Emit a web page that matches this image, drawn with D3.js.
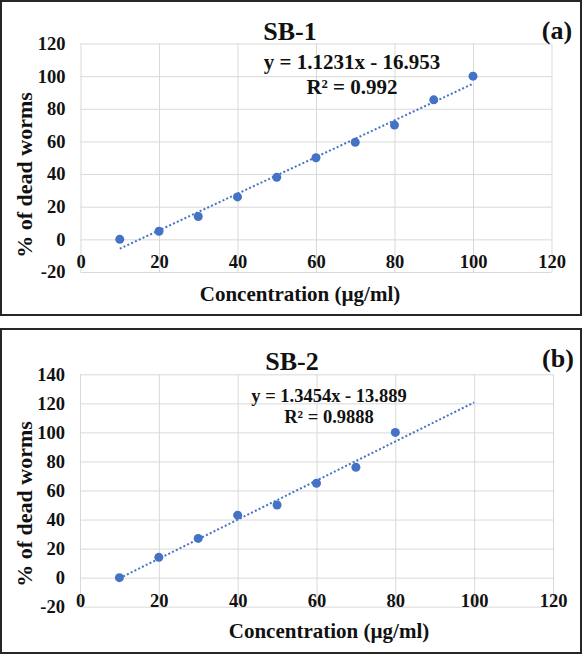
<!DOCTYPE html>
<html><head><meta charset="utf-8">
<script src="https://cdn.jsdelivr.net/npm/d3@7"></script>
<style>
html,body{margin:0;padding:0;background:#fff;}
svg{display:block;}
text{font-family:"Liberation Serif","Times New Roman",serif;font-weight:bold;fill:#111;}
</style></head>
<body>
<svg id="chart" width="583" height="655"></svg>
<script>
// ---- data ----
const xTicks = [0, 20, 40, 60, 80, 100, 120];
const yTicksA = [-20, 0, 20, 40, 60, 80, 100, 120];
const yTicksB = [-20, 0, 20, 40, 60, 80, 100, 120, 140];

const concA = [10, 20, 30, 40, 50, 60, 70, 80, 90, 100];
const deadA = [0, 5, 14, 26, 38, 50, 59.5, 70, 85.5, 100];
const concB = [10, 20, 30, 40, 50, 60, 70, 80];
const deadB = [0, 14, 27, 43, 50, 65, 76, 100];

const titles = ["SB-1", "SB-2"];
const panelTags = ["(a)", "(b)"];
const slopes = [1.1231, 1.3454];
const intercepts = [-16.953, -13.889];
const equations = ["y = 1.1231x - 16.953", "y = 1.3454x - 13.889"];
const r2Labels = ["R² = 0.992", "R² = 0.9888"];
const trendRange = [10, 100];
const xTitle = "Concentration (µg/ml)";
const yTitle = "% of dead worms";

// ---- layout ----
const panels = [
  {box:[1,1,580,314], x:[80.5,551.5], yDom:[-20,120], y:[272,43.5], yTicks:yTicksA,
   xs:concA, ys:deadA, titleX:290, titleY:40, tagX:557, tagY:39,
   eqX:352, eqY:69, eqSize:21, r2Y:94, xtX:300, xtY:301, ytX:32, ytY:175},
  {box:[1,329,580,324], x:[80,553], yDom:[-20,140], y:[606.7,374.3], yTicks:yTicksB,
   xs:concB, ys:deadB, titleX:292, titleY:370, tagX:558, tagY:367,
   eqX:329, eqY:402, eqSize:18.5, r2Y:423, xtX:329, xtY:638, ytX:32, ytY:504}
];

const svg = d3.select("#chart");
const blue = "#4472C4";
const fmt = d => String(d);

panels.forEach((p, i) => {
  const g = svg.append("g");
  g.append("rect").attr("x", p.box[0]).attr("y", p.box[1])
    .attr("width", p.box[2]).attr("height", p.box[3])
    .attr("fill", "#fff").attr("stroke", "#262626").attr("stroke-width", 2);

  const x = d3.scaleLinear().domain([0,120]).range(p.x);
  const y = d3.scaleLinear().domain(p.yDom).range(p.y);
  const w = p.x[1]-p.x[0], h = p.y[0]-p.y[1];

  // vertical gridlines
  const gx = g.append("g").attr("transform", `translate(0,${p.y[0]})`)
    .call(d3.axisBottom(x).tickValues(xTicks).tickSize(-h).tickSizeOuter(0).tickFormat(""));
  gx.select(".domain").remove();
  gx.selectAll("line").attr("stroke", "#d9d9d9").attr("stroke-width", 1);

  // horizontal gridlines + y labels
  const gy = g.append("g").attr("transform", `translate(${p.x[0]},0)`)
    .call(d3.axisLeft(y).tickValues(p.yTicks).tickSize(-w).tickSizeOuter(0).tickPadding(15).tickFormat(fmt));
  gy.select(".domain").remove();
  gy.selectAll("line").attr("stroke", "#d9d9d9").attr("stroke-width", 1);
  gy.selectAll("text").attr("font-size", 18.5).attr("font-family", null).attr("fill", "#111");

  // x labels next to zero line
  const gl = g.append("g").attr("transform", `translate(0,${y(0)})`)
    .call(d3.axisBottom(x).tickValues(xTicks).tickSize(0).tickPadding(16).tickFormat(fmt));
  gl.select(".domain").remove();
  gl.selectAll("text").attr("font-size", 18.5).attr("font-family", null).attr("fill", "#111");

  // trendline
  const line = d3.line().x(d => x(d)).y(d => y(slopes[i]*d + intercepts[i]));
  g.append("path").datum(trendRange).attr("d", line)
    .attr("fill", "none").attr("stroke", blue).attr("stroke-width", 2)
    .attr("stroke-dasharray", "2,2.2");

  // points
  const xs = p.xs, ys = p.ys;
  g.selectAll("circle.pt").data(xs.map((v,k)=>[v, ys[k]])).enter().append("circle")
    .attr("cx", d => x(d[0])).attr("cy", d => y(d[1])).attr("r", 4.5)
    .attr("fill", blue);

  // texts
  g.append("text").attr("x", p.titleX).attr("y", p.titleY).attr("text-anchor","middle")
    .attr("font-size", 26).text(titles[i]);
  g.append("text").attr("x", p.tagX).attr("y", p.tagY).attr("text-anchor","middle")
    .attr("font-size", 26).text(panelTags[i]);
  g.append("text").attr("x", p.eqX).attr("y", p.eqY).attr("text-anchor","middle")
    .attr("font-size", p.eqSize).text(equations[i]);
  g.append("text").attr("x", p.eqX).attr("y", p.r2Y).attr("text-anchor","middle")
    .attr("font-size", p.eqSize).text(r2Labels[i]);
  g.append("text").attr("x", p.xtX).attr("y", p.xtY).attr("text-anchor","middle")
    .attr("font-size", 21).text(xTitle);
  g.append("text").attr("transform", `translate(${p.ytX},${p.ytY}) rotate(-90)`)
    .attr("text-anchor","middle").attr("font-size", 22).text(yTitle);
});
</script>
</body></html>
